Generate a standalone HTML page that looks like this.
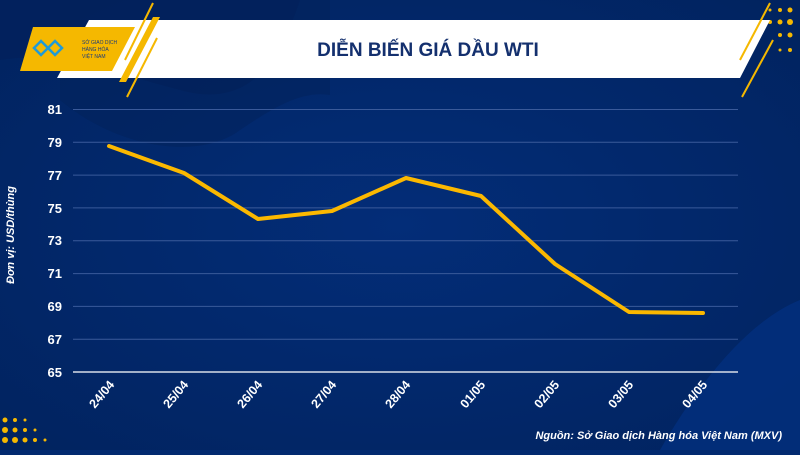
<!DOCTYPE html>
<html><head><meta charset="utf-8"><style>
body{margin:0;width:800px;height:450px;overflow:hidden;background:#022a70;font-family:"Liberation Sans",sans-serif}
</style></head><body>
<svg width="800" height="450" viewBox="0 0 800 450" xmlns="http://www.w3.org/2000/svg">
<defs><radialGradient id="bg" cx="0.5" cy="0.5" r="0.7"><stop offset="0" stop-color="#032d78"/><stop offset="1" stop-color="#01235f"/></radialGradient></defs>
<rect width="800" height="450" fill="url(#bg)"/>
<path d="M0 0 H300 C280 60 250 110 180 90 C120 75 60 50 0 60Z" fill="#02215c" opacity="0.8"/>
<path d="M60 100 C120 150 200 160 240 130 C270 110 300 90 330 95 L330 0 L60 0Z" fill="#01215a" opacity="0.5"/>
<path d="M660 450 C700 380 750 320 800 300 V450Z" fill="#032f7e" opacity="0.8"/>
<g fill="#f5b800">
<circle cx="770" cy="10" r="1.5"/><circle cx="780" cy="10" r="2"/><circle cx="790" cy="10" r="2.5"/><circle cx="770" cy="22" r="2"/><circle cx="780" cy="22" r="2.5"/><circle cx="790" cy="22" r="3"/><circle cx="780" cy="35" r="2"/><circle cx="790" cy="35" r="2.5"/><circle cx="780" cy="50" r="1.5"/><circle cx="790" cy="50" r="2"/>
<circle cx="5" cy="420" r="2.5"/><circle cx="15" cy="420" r="2"/><circle cx="25" cy="420" r="1.5"/><circle cx="5" cy="430" r="3"/><circle cx="15" cy="430" r="2.5"/><circle cx="25" cy="430" r="2"/><circle cx="35" cy="430" r="1.5"/><circle cx="5" cy="440" r="3"/><circle cx="15" cy="440" r="3"/><circle cx="25" cy="440" r="2.5"/><circle cx="35" cy="440" r="2"/><circle cx="45" cy="440" r="1.5"/>
</g>
<polygon points="89,20 770,20 740,78 57,78" fill="#ffffff"/>
<polygon points="33,27 135,27 112,71 20,71" fill="#f5b800"/>
<g stroke="#f5b800" stroke-width="2"><line x1="153" y1="3" x2="125" y2="60"/><line x1="157" y1="38" x2="127" y2="97"/><line x1="770" y1="3" x2="740" y2="60"/><line x1="773" y1="40" x2="742" y2="97"/></g>
<polygon points="153,17 160,17 126,82 119,82" fill="#f5b800"/>
<text x="82" y="44" font-size="5" fill="#1a3a7a">SỞ GIAO DỊCH</text>
<text x="82" y="51" font-size="5" fill="#1a3a7a">HÀNG HÓA</text>
<text x="82" y="58" font-size="5" fill="#1a3a7a">VIỆT NAM</text>
<path d="M34 48 l7 -7 l7 7 l7 -7 l7 7 l-7 7 l-7 -7 l-7 7z" fill="none" stroke="#1f9ad6" stroke-width="2.5"/>
<text x="428" y="56" font-size="19" font-weight="bold" fill="#14306e" text-anchor="middle">DIỄN BIẾN GIÁ DẦU WTI</text>
<g stroke="#3a5a9a" stroke-width="1">
<line x1="73" y1="109.5" x2="738" y2="109.5"/><line x1="73" y1="142.3" x2="738" y2="142.3"/><line x1="73" y1="175.1" x2="738" y2="175.1"/><line x1="73" y1="207.9" x2="738" y2="207.9"/><line x1="73" y1="240.8" x2="738" y2="240.8"/><line x1="73" y1="273.6" x2="738" y2="273.6"/><line x1="73" y1="306.4" x2="738" y2="306.4"/><line x1="73" y1="339.2" x2="738" y2="339.2"/></g>
<line x1="73" y1="372" x2="738" y2="372" stroke="#d8dde8" stroke-width="1.5"/>
<g font-size="13" font-weight="bold" fill="#fff" text-anchor="end">
<text x="62" y="114">81</text><text x="62" y="147">79</text><text x="62" y="180">77</text><text x="62" y="213">75</text><text x="62" y="245">73</text><text x="62" y="278">71</text><text x="62" y="311">69</text><text x="62" y="344">67</text><text x="62" y="377">65</text></g>
<text transform="translate(14,235) rotate(-90)" font-size="11" font-weight="bold" font-style="italic" fill="#fff" text-anchor="middle">Đơn vị: USD/thùng</text>
<g font-size="12.5" font-weight="bold" fill="#fff" text-anchor="end">
<text transform="translate(115,385) rotate(-50)">24/04</text><text transform="translate(189,385) rotate(-50)">25/04</text><text transform="translate(263,385) rotate(-50)">26/04</text><text transform="translate(337,385) rotate(-50)">27/04</text><text transform="translate(411,385) rotate(-50)">28/04</text><text transform="translate(486,385) rotate(-50)">01/05</text><text transform="translate(560,385) rotate(-50)">02/05</text><text transform="translate(634,385) rotate(-50)">03/05</text><text transform="translate(708,385) rotate(-50)">04/05</text></g>
<polyline points="109,146 184,173 258,219 332,211 406,178 481,196 555,264 629,312 703,313" fill="none" stroke="#fbb800" stroke-width="4" stroke-linejoin="round" stroke-linecap="round"/>
<text x="782" y="439" font-size="11" font-weight="bold" font-style="italic" fill="#fff" text-anchor="end">Nguồn: Sở Giao dịch Hàng hóa Việt Nam (MXV)</text>
</svg>
</body></html>
